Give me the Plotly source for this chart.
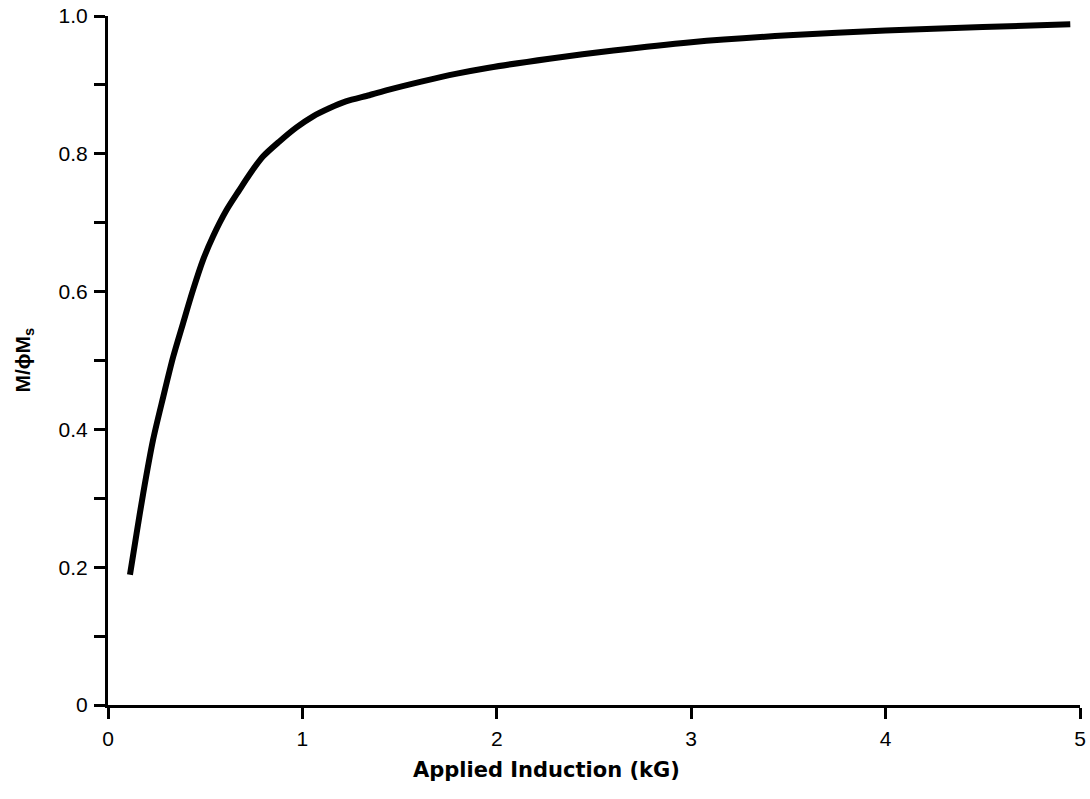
import plotly.graph_objects as go

# Data
induction_kg = [0.113, 0.147, 0.181, 0.232, 0.284, 0.335, 0.386, 0.437, 0.489, 0.54,
                0.609, 0.677, 0.728, 0.797, 0.882, 0.968, 1.053, 1.138, 1.224, 1.344,
                1.446, 1.617, 1.788, 1.959, 2.27, 2.6, 3.0, 3.5, 4.0, 4.5, 4.95]
m_ratio = [0.189, 0.249, 0.307, 0.385, 0.447, 0.505, 0.554, 0.602, 0.646, 0.680,
           0.718, 0.748, 0.770, 0.796, 0.818, 0.838, 0.854, 0.866, 0.876, 0.885,
           0.893, 0.905, 0.916, 0.925, 0.938, 0.950, 0.962, 0.972, 0.979, 0.984, 0.988]

x_ticks = [0, 1, 2, 3, 4, 5]
x_labels = ["0", "1", "2", "3", "4", "5"]
y_ticks = [0, 0.2, 0.4, 0.6, 0.8, 1.0]
y_labels = ["0", "0.2", "0.4", "0.6", "0.8", "1.0"]
y_minor_ticks = [0.1, 0.3, 0.5, 0.7, 0.9]

x_title = "Applied Induction (kG)"
y_title = "M/ϕM<sub>s</sub>"

FONT = "Liberation Sans, Arial, sans-serif"

fig = go.Figure()
fig.add_trace(go.Scatter(
    x=induction_kg, y=m_ratio, mode="lines",
    line=dict(color="black", width=6, shape="spline", smoothing=0.8),
    showlegend=False, hoverinfo="skip",
))

fig.update_layout(
    width=1090, height=799,
    margin=dict(l=108, r=10, t=16, b=94),
    paper_bgcolor="white", plot_bgcolor="white",
    font=dict(family=FONT, color="black", size=21),
)
axis_common = dict(
    showline=True, linecolor="black", linewidth=3,
    ticks="outside", ticklen=11, tickwidth=3, tickcolor="black",
    showgrid=False, zeroline=False, ticklabelstandoff=2, automargin=False,
    ticklabeloverflow="allow",
    tickfont=dict(family=FONT, size=21, color="black"),
)
fig.update_xaxes(range=[0, 5], tickvals=x_ticks, ticktext=x_labels, **axis_common)
fig.update_yaxes(
    range=[0, 1], tickvals=y_ticks, ticktext=y_labels,
    minor=dict(tickvals=y_minor_ticks, ticks="outside", ticklen=11, tickwidth=3,
               tickcolor="black", showgrid=False),
    **axis_common,
)

fig.add_annotation(
    text="<b>" + x_title + "</b>", xref="paper", yref="paper",
    x=(546 - 108) / (1090 - 118), y=0, xanchor="center", yanchor="middle", yshift=-65,
    showarrow=False, font=dict(family="DejaVu Sans, sans-serif", size=21, color="black"),
)
fig.add_annotation(
    text="<b>" + y_title + "</b>", xref="paper", yref="paper",
    x=0, y=0.5, xanchor="center", yanchor="middle", xshift=-85, textangle=-90,
    showarrow=False, font=dict(family=FONT, size=21, color="black"),
)

fig.write_html(
    "out.html",
    config={"displayModeBar": False},
    post_script="document.body.style.margin='0';",
)
